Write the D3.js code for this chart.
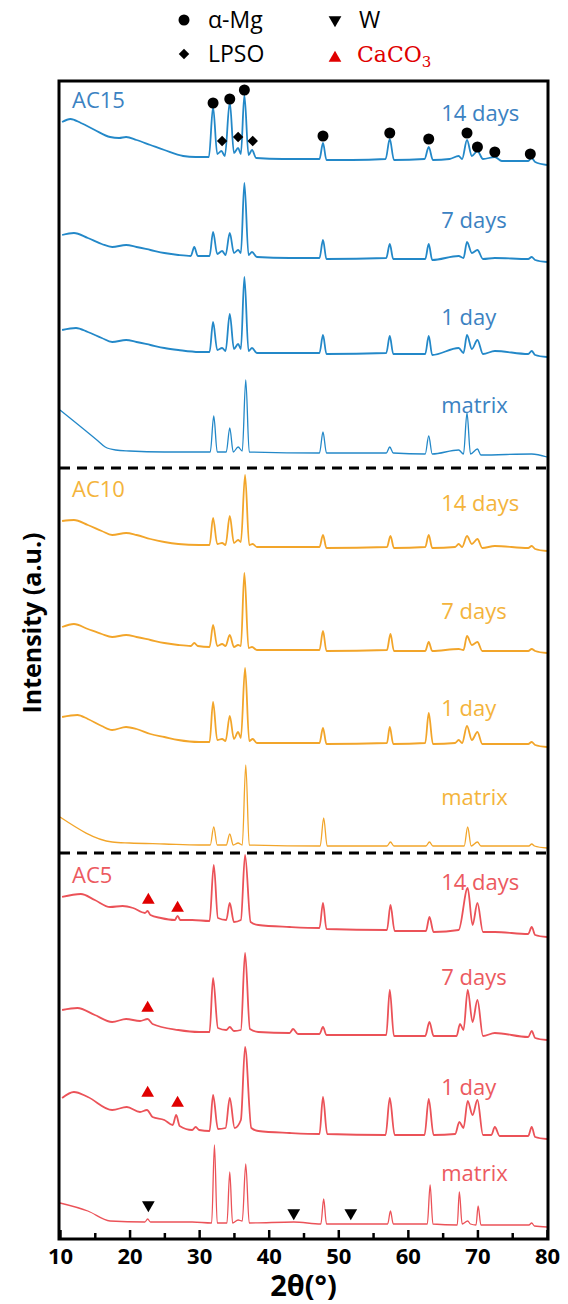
<!DOCTYPE html>
<html>
<head>
<meta charset="utf-8">
<script src="https://cdn.jsdelivr.net/npm/d3@7"></script>
<style>
  body { margin: 0; background: #fff; }
  svg { display: block; font-family: "Open Sans", sans-serif; }
</style>
</head>
<body>
<svg id="chart" width="568" height="1304"></svg>
<script>
// Sample names and stacking offsets (a.u.)
var groups = ["AC15", "AC10", "AC5"];
var samples = ["14 days", "7 days", "1 day", "matrix"];
var offsets = [[1079, 980, 885, 785], [691, 588, 495, 393], [311, 205, 105, 15]];
var colours = ["#2388c8", "#f2a52a", "#eb5258"];
var textColours = ["#3b82c2", "#f4b43c", "#ec5a5f"];

// Patterns: [2theta, intensity above own baseline]
var ac15_14 = [[10.3,37],[11.5,40],[13,36],[15,29],[17.2,22],[18.5,21],[19.5,22],[21,19],[23,14],[25,9],[27.7,3],[29.5,2],[31.4,2],[32.0,52],[32.6,5],[33.2,8],[33.7,3],[34.4,57],[35.0,6],[35.6,11],[36.0,5],[36.5,64],[37.1,4],[37.6,9],[38.2,1],[42,0],[47.3,0],[47.8,16],[48.3,-1],[52,-1],[56.8,0],[57.4,20],[58.0,-1],[62.4,0],[63.0,12],[63.6,-1],[66,0],[67.3,3],[67.8,0],[68.5,19],[69.2,3],[70.0,8],[70.8,0],[72.5,2],[73.5,-2],[77.3,-2],[77.8,1],[78.3,-3],[80,-6]];
var ac15_7 = [[10.3,23],[12,25],[14,20],[16,14],[17.5,11],[19.5,13],[21,11],[23,8],[25,5],[27,3],[28.8,2],[29.3,11],[29.8,2],[31.5,2],[32.0,26],[32.6,4],[33.3,7],[33.8,3],[34.4,25],[35.0,5],[35.6,8],[36.0,5],[36.5,75],[37.1,3],[37.6,6],[38.3,1],[43,0],[47.3,0],[47.8,18],[48.3,-1],[56.9,0],[57.4,14],[57.9,-1],[62.5,-1],[63.0,14],[63.5,-2],[67.3,2],[68.0,0],[68.5,16],[69.2,5],[70.0,8],[70.8,-1],[72.5,0],[77.3,-1],[77.8,1],[78.3,-2],[80,-4]];
var ac15_1 = [[10.3,23],[12.3,25],[14,21],[16,15],[17.5,11],[19.5,13],[21,11],[23,8],[25,5],[27,3],[30,1],[31.5,1],[32.0,31],[32.6,3],[33.3,5],[33.8,2],[34.4,39],[35.0,4],[35.6,9],[36.0,4],[36.5,76],[37.1,2],[37.6,5],[38.3,0],[47.3,0],[47.8,18],[48.3,-1],[56.9,0],[57.4,17],[57.9,-1],[62.5,-1],[63.0,17],[63.5,-2],[67.3,5],[68.0,0],[68.5,18],[69.2,4],[70.0,13],[70.8,-1],[72.5,2],[77.3,-1],[77.8,2],[78.3,-2],[80,-4]];
var ac15_m = [[10,43],[15.3,13],[16.5,6],[18,3],[20,2],[25,1],[30,1],[31.6,1],[32.1,37],[32.6,1],[33.9,1],[34.4,25],[34.9,1],[35.6,6],[36.2,2],[36.7,73],[37.2,1],[47.3,0],[47.8,21],[48.3,0],[56.9,0],[57.4,6],[57.9,0],[62.5,-1],[63.0,17],[63.5,-1],[67.3,3],[68.0,-1],[68.5,40],[69.0,-1],[70.0,4],[70.5,-2],[77.8,-1],[80,-4]];
var ac10_14 = [[10.3,26],[12,27],[14,22],[16,16],[17.5,12],[19.5,14],[21,12],[23,8],[25,5],[27,3],[30,2],[31.5,2],[32.0,29],[32.6,3],[33.3,4],[33.8,2],[34.4,31],[35.0,4],[35.6,7],[36.0,5],[36.6,72],[37.2,2],[37.7,3],[38.3,0],[47.3,0],[47.8,12],[48.3,-1],[57.0,0],[57.5,11],[58.0,-1],[62.5,0],[63.0,12],[63.5,-1],[66.8,0],[67.3,3],[67.8,0],[68.5,11],[69.2,3],[70.0,8],[70.7,-1],[72.5,1],[77.3,-1],[77.8,1],[78.3,-2],[80,-4]];
var ac10_7 = [[10.3,23],[12,26],[14,21],[16,16],[17.5,13],[19.5,15],[21,13],[23,10],[25,7],[27,5],[28.8,4],[29.3,7],[29.8,4],[31.5,3],[32.0,25],[32.6,4],[33.3,6],[33.8,4],[34.4,15],[35.0,3],[35.6,5],[36.0,4],[36.5,77],[37.1,2],[37.6,3],[38.3,0],[47.3,0],[47.8,19],[48.3,-1],[57.0,0],[57.5,16],[58.0,-1],[62.5,-1],[63.0,8],[63.5,-1],[67.3,1],[68.0,0],[68.5,14],[69.2,5],[70.0,8],[70.7,-1],[77.3,-1],[77.8,1],[78.3,-1],[80,-3]];
var ac10_1 = [[10.3,26],[12.5,28],[14,24],[16,17],[17.5,13],[19.5,16],[21,14],[23,9],[25,6],[27,3],[30,1],[31.5,1],[32.0,41],[32.6,3],[33.3,4],[33.8,2],[34.4,27],[35.0,4],[35.6,11],[36.0,5],[36.6,75],[37.2,2],[37.7,4],[38.3,0],[47.3,0],[47.8,15],[48.3,-1],[57.0,0],[57.4,16],[57.9,-1],[62.5,0],[63.0,30],[63.6,-1],[66.8,0],[67.3,3],[67.8,0],[68.5,17],[69.2,3],[70.0,11],[70.7,-1],[72.5,-1],[77.3,-1],[77.8,1],[78.3,-2],[80,-4]];
var ac10_m = [[10,28],[17.5,3],[20,2],[25,1],[30,0],[31.6,0],[32.1,18],[32.6,0],[33.9,0],[34.4,11],[34.9,0],[35.6,2],[36.2,0],[36.7,80],[37.2,0],[47.4,-1],[47.9,27],[48.4,-1],[57.0,-1],[57.5,3],[58.0,-1],[62.6,-1],[63.1,3],[63.6,-1],[68.1,-1],[68.6,18],[69.1,-1],[70.0,3],[70.5,-1],[77.4,-1],[77.8,1],[78.2,-1],[80,-3]];
var ac5_14 = [[10.3,30],[13,33],[15,27],[17.2,20],[19,21],[20.5,19],[22.2,14],[22.6,16],[23,12],[24.5,9],[26.5,7],[26.9,11],[27.3,7],[29,7],[31.5,6],[32.1,62],[32.7,9],[33.9,7],[34.4,24],[35.0,5],[36.0,7],[36.6,72],[37.4,5],[38.5,2],[43,0],[47.3,-1],[47.8,24],[48.3,-2],[57.0,-3],[57.5,22],[58.1,-4],[62.6,-4],[63.1,10],[63.7,-5],[67.3,-3],[68.6,39],[69.3,2],[70.0,24],[70.8,-5],[72.5,-5],[77.3,-7],[77.8,0],[78.3,-8],[80,-10]];
var ac5_7 = [[10.3,23],[12.5,25],[15,18],[17.5,11],[19.5,14],[21.5,12],[22.6,14],[23.3,9],[27,3],[30,1],[31.5,1],[32.0,55],[32.7,5],[33.9,3],[34.4,6],[35.0,2],[36.0,3],[36.6,80],[37.3,4],[38.5,1],[43,0],[43.5,4],[44.2,-1],[47.3,-1],[47.8,6],[48.3,-2],[56.9,-2],[57.4,43],[58.0,-3],[62.5,-3],[63.1,11],[63.7,-3],[67.0,-3],[67.5,9],[68.0,3],[68.6,43],[69.3,11],[70.0,33],[70.8,-3],[72.5,0],[77.3,-4],[77.8,2],[78.3,-5],[80,-7]];
var ac5_1 = [[10.3,35],[12,41],[14,36],[17.5,23],[19.6,26],[21.5,21],[22.5,23],[23.3,16],[25,13],[26.2,8],[26.7,18],[27.2,7],[29,3],[29.5,6],[30,3],[31.5,2],[32.0,38],[32.7,4],[33.8,5],[34.4,35],[35.1,5],[36.0,13],[36.6,86],[37.5,5],[38.5,2],[43,0],[47.3,-1],[47.8,36],[48.4,-1],[56.8,-2],[57.4,35],[58.1,-2],[62.4,-2],[63.0,34],[63.7,-2],[66.8,-1],[67.4,11],[68.0,5],[68.6,32],[69.3,18],[70.0,33],[70.8,-2],[72.0,-2],[72.5,6],[73.2,-3],[77.3,-3],[77.8,6],[78.3,-4],[80,-6]];
var ac5_m = [[10,20],[14,12],[17.2,2],[22.2,1],[22.6,4],[23.0,1],[29,1],[31.8,0],[32.2,78],[32.6,0],[34.0,0],[34.4,51],[34.8,0],[35.6,3],[36.2,2],[36.7,59],[37.2,0],[43.6,1],[47.5,-1],[47.9,24],[48.3,-1],[57.1,-1],[57.5,12],[57.9,-1],[62.8,-1],[63.2,38],[63.6,-1],[67.1,-2],[67.4,31],[67.8,-1],[68.6,2],[69.0,-1],[69.8,-2],[70.1,17],[70.5,-2],[77.4,-2],[77.8,0],[78.2,-3],[80,-4]];

var patterns = [[ac15_14, ac15_7, ac15_1, ac15_m], [ac10_14, ac10_7, ac10_1, ac10_m], [ac5_14, ac5_7, ac5_1, ac5_m]];

// Phase markers: [group, sample, 2theta, height above baseline]
var alphaMg = [[0,0,32.0,56],[0,0,34.4,60],[0,0,36.5,69],[0,0,47.8,23],[0,0,57.4,26],[0,0,63.0,20],[0,0,68.5,26],[0,0,70.0,12],[0,0,72.5,7],[0,0,77.6,5]];
var lpso = [[0,0,33.3,18],[0,0,35.6,22],[0,0,37.7,18]];
var wPhase = [[2,3,22.7,18],[2,3,43.6,10],[2,3,51.8,10]];
var caco3 = [[2,0,22.7,27],[2,0,26.9,19],[2,1,22.6,25],[2,2,22.6,40],[2,2,26.9,30]];

var xTicks = [10, 20, 30, 40, 50, 60, 70, 80];
var xMinor = [15, 25, 35, 45, 55, 65, 75];

// Layout
var plotL = 60, plotR = 547, plotT = 82, plotB = 1238;
var svg = d3.select("#chart");

var x = d3.scaleLinear().domain([10, 80]).range([plotL, plotR]);
var y = d3.scaleLinear().domain([0, plotB - plotT]).range([plotB, plotT]);

// traces
var line = d3.line()
  .curve(d3.curveMonotoneX)
  .x(function(d) { return x(d[0]); });

patterns.forEach(function(grp, gi) {
  grp.forEach(function(pts, si) {
    var off = offsets[gi][si];
    svg.append("path")
      .datum(pts)
      .attr("d", line.y(function(d) { return y(d[1] + off); }))
      .attr("fill", "none")
      .attr("stroke", colours[gi])
      .attr("stroke-width", si == 3 ? 1.3 : 1.8)
      .attr("stroke-linejoin", "round");
  });
});

// sample labels (lift above baseline, a.u.)
var labelLift = [[46, 38, 36, 48], [44, 39, 35, 48], [45, 56, 46, 50]];
var groupLift = [59, 58, 52];
groups.forEach(function(g, gi) {
  svg.append("text")
    .attr("x", plotL + 12)
    .attr("y", y(offsets[gi][0] + groupLift[gi]))
    .attr("dy", "0.35em")
    .attr("fill", textColours[gi])
    .style("font-size", "22px")
    .text(g);
  samples.forEach(function(s, si) {
    svg.append("text")
      .attr("x", x(64.8))
      .attr("y", y(offsets[gi][si] + labelLift[gi][si]))
      .attr("dy", "0.35em")
      .attr("fill", textColours[gi])
      .style("font-size", "22px")
      .text(s);
  });
});

// phase markers
function drawMarks(list, type, size, fill, rot) {
  svg.selectAll(null)
    .data(list)
    .enter().append("path")
    .attr("d", d3.symbol().type(type).size(size))
    .attr("transform", function(d) {
      return "translate(" + x(d[2]) + "," + y(offsets[d[0]][d[1]] + d[3]) + ") rotate(" + rot + ")";
    })
    .attr("fill", fill);
}
drawMarks(alphaMg, d3.symbolCircle, 95, "#000", 0);
drawMarks(lpso, d3.symbolSquare, 55, "#000", 45);
drawMarks(wPhase, d3.symbolTriangle, 70, "#000", 180);
drawMarks(caco3, d3.symbolTriangle, 70, "#e00000", 0);

// dashed separators between groups
[offsets[0][3] - 15, offsets[1][3] - 8].forEach(function(v) {
  svg.append("line")
    .attr("x1", plotL).attr("x2", plotR)
    .attr("y1", y(v)).attr("y2", y(v))
    .attr("stroke", "#000")
    .attr("stroke-width", 3)
    .attr("stroke-dasharray", "10,7");
});

// frame
svg.append("rect")
  .attr("x", plotL - 1).attr("y", plotT - 1)
  .attr("width", plotR - plotL + 2).attr("height", plotB - plotT + 2)
  .attr("fill", "none")
  .attr("stroke", "#000")
  .attr("stroke-width", 3);

// x axis, inward ticks
var xAxis = svg.append("g")
  .attr("transform", "translate(0," + plotB + ")")
  .call(d3.axisBottom(x).tickValues(xTicks).tickSizeInner(-8).tickSizeOuter(0).tickPadding(10));
xAxis.select(".domain").remove();
xAxis.selectAll(".tick line").attr("stroke-width", 2.5);
xAxis.selectAll(".tick text")
  .attr("fill", "#000")
  .style("font-size", "22px")
  .style("font-weight", "bold")
  .style("font-family", "Open Sans, sans-serif");

svg.append("g")
  .attr("transform", "translate(0," + plotB + ")")
  .call(d3.axisBottom(x).tickValues(xMinor).tickSizeInner(-5).tickSizeOuter(0).tickFormat(""))
  .call(function(g) { g.select(".domain").remove(); })
  .selectAll(".tick line").attr("stroke-width", 2.5);

svg.append("text")
  .attr("x", (plotL + plotR) / 2)
  .attr("y", 1286)
  .attr("dy", "0.35em")
  .attr("text-anchor", "middle")
  .style("font-size", "29px")
  .style("font-weight", "bold")
  .text("2\u03b8(\u00b0)");

svg.append("text")
  .attr("transform", "translate(32,623) rotate(-90)")
  .attr("dy", "0.35em")
  .attr("text-anchor", "middle")
  .style("font-size", "25px")
  .style("font-weight", "bold")
  .text("Intensity (a.u.)");

// legend
var legend = svg.append("g");
var legendItems = [
  { sym: d3.symbolCircle, size: 95, rot: 0, fill: "#000", lx: 184, ly: 20, label: "\u03b1-Mg" },
  { sym: d3.symbolTriangle, size: 70, rot: 180, fill: "#000", lx: 335, ly: 20, label: "W" },
  { sym: d3.symbolSquare, size: 55, rot: 45, fill: "#000", lx: 184, ly: 54, label: "LPSO" }
];
legendItems.forEach(function(it) {
  legend.append("path")
    .attr("d", d3.symbol().type(it.sym).size(it.size))
    .attr("transform", "translate(" + it.lx + "," + it.ly + ") rotate(" + it.rot + ")")
    .attr("fill", it.fill);
  legend.append("text")
    .attr("x", it.lx + 24)
    .attr("y", it.ly)
    .attr("dy", "0.35em")
    .style("font-size", "23px")
    .text(it.label);
});
legend.append("path")
  .attr("d", d3.symbol().type(d3.symbolTriangle).size(70))
  .attr("transform", "translate(335,58)")
  .attr("fill", "#e00000");
var ca = legend.append("text")
  .attr("x", 357)
  .attr("y", 54)
  .attr("dy", "0.35em")
  .attr("fill", "#e00000")
  .style("font-family", "'DejaVu Serif', serif")
  .style("font-size", "22px");
ca.append("tspan").text("CaCO");
ca.append("tspan").attr("dy", "5").style("font-size", "15px").text("3");
</script>
</body>
</html>
